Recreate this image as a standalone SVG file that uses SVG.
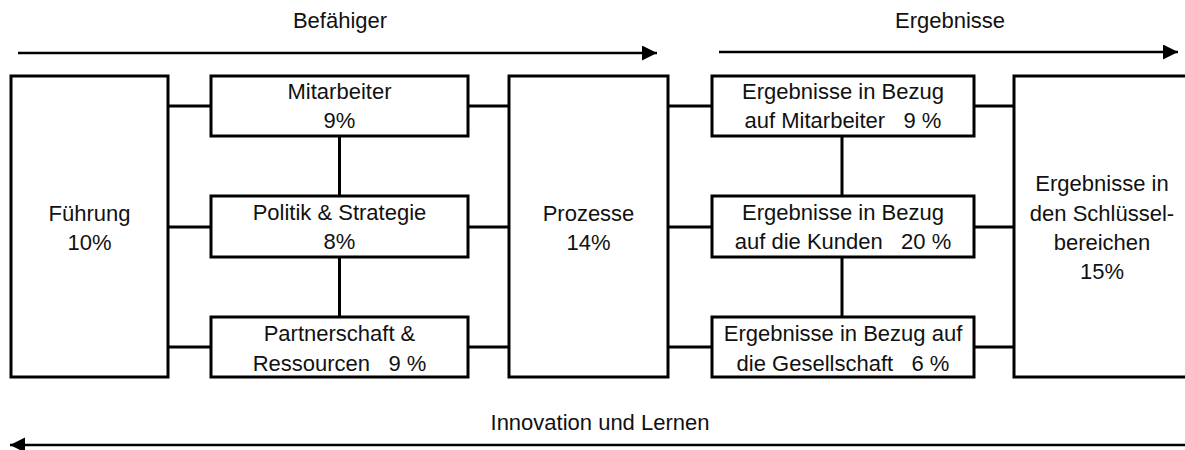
<svg xmlns="http://www.w3.org/2000/svg" width="1185" height="450" viewBox="0 0 1185 450">
<defs>
<marker id="ah" markerUnits="userSpaceOnUse" markerWidth="16" markerHeight="16" refX="15" refY="7.5" orient="auto">
<path d="M0,0 L15,7.5 L0,15 z" fill="#000"/>
</marker>
<style>
.box{fill:#fff;stroke:#000;stroke-width:3}
.con{stroke:#000;stroke-width:3;fill:none}
.arr{stroke:#000;stroke-width:2.5;fill:none}
text{font-family:"Liberation Sans",Arial,sans-serif;font-size:22px;fill:#111;text-anchor:middle;white-space:pre}
</style>
</defs>
<rect width="1185" height="450" fill="#fff"/>
<g id="labels">
<text x="340" y="28">Befähiger</text>
<text x="950" y="28">Ergebnisse</text>
<text x="600" y="430">Innovation und Lernen</text>
</g>
<g id="arrows">
<line class="arr" x1="18" y1="53" x2="657" y2="53" marker-end="url(#ah)"/>
<line class="arr" x1="719" y1="52" x2="1178" y2="52" marker-end="url(#ah)"/>
<line class="arr" x1="1186" y1="445" x2="10" y2="445" marker-end="url(#ah)"/>
</g>
<g id="connectors">
<line class="con" x1="168" y1="106" x2="211" y2="106"/>
<line class="con" x1="468" y1="106" x2="509" y2="106"/>
<line class="con" x1="668" y1="106" x2="712" y2="106"/>
<line class="con" x1="974" y1="106" x2="1014" y2="106"/>
<line class="con" x1="168" y1="227" x2="211" y2="227"/>
<line class="con" x1="468" y1="227" x2="509" y2="227"/>
<line class="con" x1="668" y1="227" x2="712" y2="227"/>
<line class="con" x1="974" y1="227" x2="1014" y2="227"/>
<line class="con" x1="168" y1="347" x2="211" y2="347"/>
<line class="con" x1="468" y1="347" x2="509" y2="347"/>
<line class="con" x1="668" y1="347" x2="712" y2="347"/>
<line class="con" x1="974" y1="347" x2="1014" y2="347"/>
<line class="con" x1="339.5" y1="136" x2="339.5" y2="196"/>
<line class="con" x1="339.5" y1="257" x2="339.5" y2="317"/>
<line class="con" x1="842" y1="136" x2="842" y2="196"/>
<line class="con" x1="842" y1="257" x2="842" y2="317"/>
</g>
<g id="fuehrung">
<rect class="box" x="11" y="76" width="157" height="301"/>
<text x="89.5" y="221">Führung</text>
<text x="89.5" y="250">10%</text>
</g>
<g id="mitarbeiter">
<rect class="box" x="211" y="76" width="257" height="60"/>
<text x="339.5" y="99">Mitarbeiter</text>
<text x="339.5" y="128">9%</text>
</g>
<g id="politik">
<rect class="box" x="211" y="196" width="257" height="61"/>
<text x="339.5" y="220">Politik &amp; Strategie</text>
<text x="339.5" y="249">8%</text>
</g>
<g id="partnerschaft">
<rect class="box" x="211" y="317" width="257" height="60"/>
<text x="339.5" y="341">Partnerschaft &amp;</text>
<text x="339.5" y="370.5">Ressourcen   9 %</text>
</g>
<g id="prozesse">
<rect class="box" x="509" y="76" width="159" height="301"/>
<text x="588.5" y="221">Prozesse</text>
<text x="588.5" y="250">14%</text>
</g>
<g id="erg-mitarbeiter">
<rect class="box" x="712" y="76" width="262" height="60"/>
<text x="843" y="99">Ergebnisse in Bezug</text>
<text x="843" y="128">auf Mitarbeiter   9 %</text>
</g>
<g id="erg-kunden">
<rect class="box" x="712" y="196" width="262" height="61"/>
<text x="843" y="220">Ergebnisse in Bezug</text>
<text x="843" y="249">auf die Kunden   20 %</text>
</g>
<g id="erg-gesellschaft">
<rect class="box" x="712" y="317" width="262" height="60"/>
<text x="843" y="341">Ergebnisse in Bezug auf</text>
<text x="843" y="370.5">die Gesellschaft   6 %</text>
</g>
<g id="schluesselbereiche">
<rect class="box" x="1014" y="76" width="180" height="301"/>
<text x="1102" y="191">Ergebnisse in</text>
<text x="1102" y="221">den Schlüssel-</text>
<text x="1102" y="250">bereichen</text>
<text x="1102" y="279">15%</text>
</g>
</svg>
